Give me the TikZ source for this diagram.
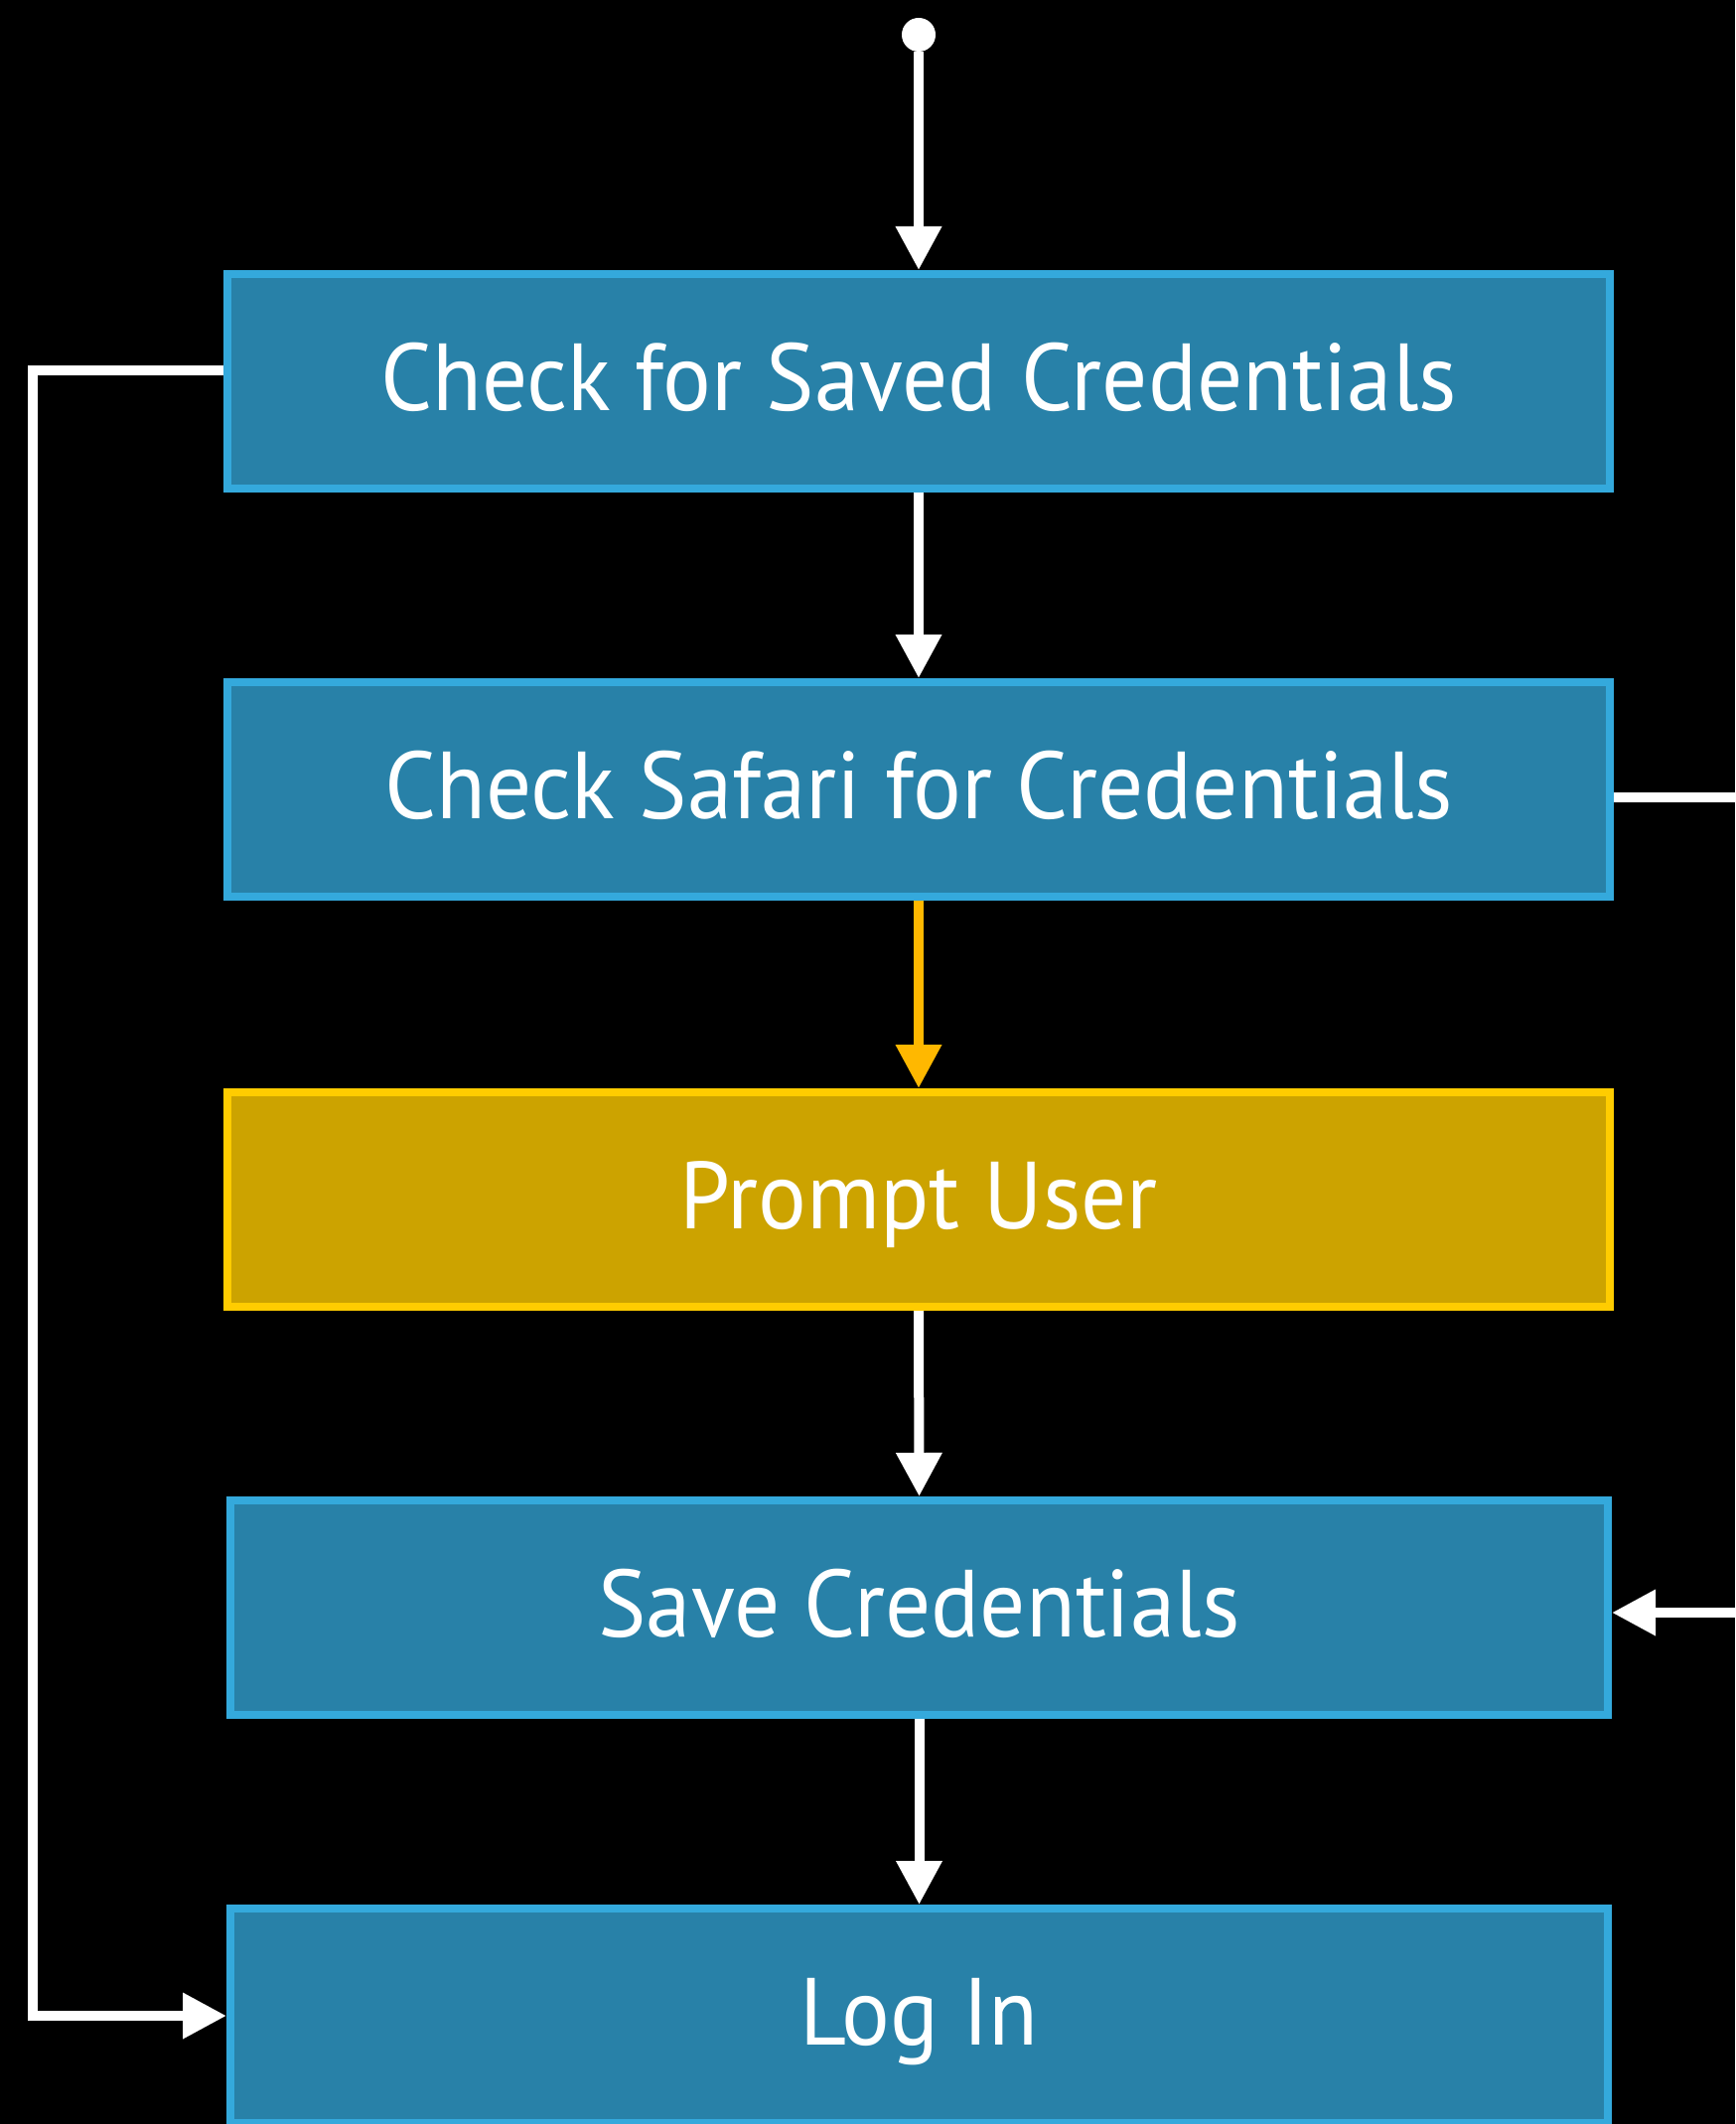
\documentclass[tikz,border=0pt]{standalone}
\usepackage{fontspec}
\setmainfont[FakeStretch=0.95]{PT Sans}
\usetikzlibrary{arrows.meta}
\definecolor{boxfill}{HTML}{2881A8}
\definecolor{boxedge}{HTML}{34A9DC}
\definecolor{yfill}{HTML}{CCA300}
\definecolor{yedge}{HTML}{FFCC00}
\definecolor{yarrow}{HTML}{FFB800}
\begin{document}
\begin{tikzpicture}[x=0.5pt,y=-0.5pt,
  stepbox/.style={draw=boxedge, fill=boxfill, line width=4pt,
    minimum width=696pt, minimum height=108pt, text=white,
    font=\fontsize{48}{48}\selectfont, text height=33.5pt, text depth=4pt, inner sep=0pt},
  promptbox/.style={stepbox, draw=yedge, fill=yfill},
  flow/.style={draw=white, line width=5pt, line join=miter,
    -{Triangle[length=22pt,width=22pt]}},
  yflow/.style={flow, draw=yarrow}]
\path[use as bounding box, fill=black] (0,0) rectangle (1747,2139);

\node[circle, fill=white, minimum size=17pt, inner sep=0pt] (start) at (925,35) {};
\node[stepbox] (b1) at (925,384) {Check for Saved Credentials};
\node[stepbox] (b2) at (925,795) {Check Safari for Credentials};
\node[promptbox] (b3) at (925,1208) {Prompt User};
\node[stepbox, minimum width=693.5pt] (b4) at (925.5,1619) {Save Credentials};
\node[stepbox, minimum width=693.5pt] (b5) at (925.5,2030) {Log In};

\coordinate (lx) at (33,0);
\coordinate (rx) at (1800,0);

\draw[flow] (start) -- (b1.north);
\draw[flow] (b1.south) -- (b2.north);
\draw[yflow] (b2.south) -- (b3.north);
\draw[flow] (b3.south) -- (b4.north);
\draw[flow] (b4.south) -- (b5.north);
\draw[flow] ([yshift=5.5pt]b1.west) -- ([yshift=5.5pt]b1.west -| lx) |- (b5.west);
\draw[flow] ([yshift=-4pt]b2.east) -- ([yshift=-4pt]b2.east -| rx) |- ([yshift=-2.5pt]b4.east);
\end{tikzpicture}
\end{document}
